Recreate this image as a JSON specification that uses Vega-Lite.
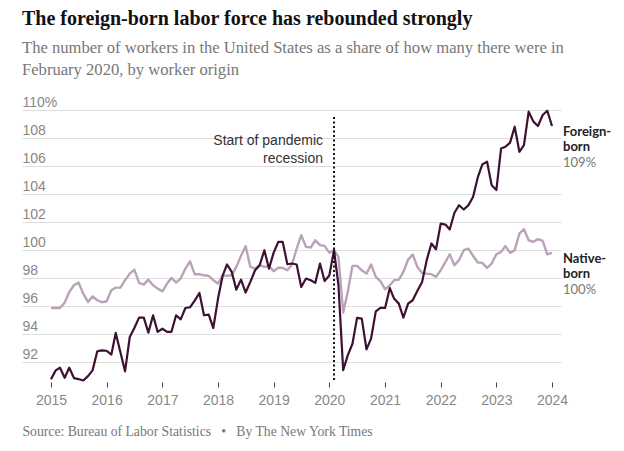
{
  "$schema": "https://vega.github.io/schema/vega-lite/v6.json",
  "width": 539,
  "height": 272,
  "autosize": {"type": "none"},
  "padding": {"left": 22, "top": 110, "right": 63, "bottom": 69},
  "background": "white",
  "title": {
    "text": "The foreign-born labor force has rebounded strongly",
    "subtitle": ["The number of workers in the United States as a share of how many there were in", "February 2020, by worker origin"],
    "anchor": "start",
    "frame": "group",
    "font": "Liberation Serif",
    "fontSize": 20,
    "fontWeight": "bold",
    "color": "#121212",
    "subtitleFont": "Liberation Serif",
    "subtitleFontSize": 16.6,
    "subtitleColor": "#777777",
    "subtitlePadding": 11,
    "subtitleLineHeight": 22,
    "offset": 16
  },
  "datasets": {
    "series": [
      {"date": "2015-01-01", "foreign": 90.79, "native": 95.88},
      {"date": "2015-02-01", "foreign": 91.43, "native": 95.88},
      {"date": "2015-03-01", "foreign": 91.62, "native": 95.88},
      {"date": "2015-04-01", "foreign": 90.9, "native": 96.26},
      {"date": "2015-05-01", "foreign": 91.62, "native": 97.02},
      {"date": "2015-06-01", "foreign": 90.88, "native": 97.5},
      {"date": "2015-07-01", "foreign": 90.81, "native": 97.69},
      {"date": "2015-08-01", "foreign": 90.71, "native": 96.9},
      {"date": "2015-09-01", "foreign": 91.02, "native": 96.31},
      {"date": "2015-10-01", "foreign": 91.43, "native": 96.71},
      {"date": "2015-11-01", "foreign": 92.79, "native": 96.43},
      {"date": "2015-12-01", "foreign": 92.86, "native": 96.29},
      {"date": "2016-01-01", "foreign": 92.83, "native": 96.36},
      {"date": "2016-02-01", "foreign": 92.55, "native": 97.14},
      {"date": "2016-03-01", "foreign": 94.1, "native": 97.33},
      {"date": "2016-04-01", "foreign": 92.7, "native": 97.33},
      {"date": "2016-05-01", "foreign": 91.36, "native": 97.86},
      {"date": "2016-06-01", "foreign": 93.81, "native": 98.33},
      {"date": "2016-07-01", "foreign": 94.45, "native": 98.62},
      {"date": "2016-08-01", "foreign": 95.19, "native": 97.67},
      {"date": "2016-09-01", "foreign": 95.19, "native": 97.55},
      {"date": "2016-10-01", "foreign": 94.12, "native": 97.9},
      {"date": "2016-11-01", "foreign": 95.36, "native": 97.5},
      {"date": "2016-12-01", "foreign": 94.17, "native": 97.26},
      {"date": "2017-01-01", "foreign": 94.4, "native": 97.07},
      {"date": "2017-02-01", "foreign": 94.17, "native": 97.62},
      {"date": "2017-03-01", "foreign": 94.17, "native": 98.02},
      {"date": "2017-04-01", "foreign": 95.36, "native": 97.69},
      {"date": "2017-05-01", "foreign": 95.07, "native": 97.98},
      {"date": "2017-06-01", "foreign": 95.88, "native": 98.69},
      {"date": "2017-07-01", "foreign": 95.93, "native": 99.21},
      {"date": "2017-08-01", "foreign": 96.4, "native": 98.29},
      {"date": "2017-09-01", "foreign": 96.95, "native": 98.29},
      {"date": "2017-10-01", "foreign": 95.36, "native": 98.21},
      {"date": "2017-11-01", "foreign": 95.4, "native": 98.17},
      {"date": "2017-12-01", "foreign": 94.45, "native": 97.86},
      {"date": "2018-01-01", "foreign": 96.55, "native": 97.62},
      {"date": "2018-02-01", "foreign": 98.21, "native": 98.21},
      {"date": "2018-03-01", "foreign": 98.98, "native": 98.17},
      {"date": "2018-04-01", "foreign": 98.45, "native": 98.21},
      {"date": "2018-05-01", "foreign": 97.19, "native": 98.81},
      {"date": "2018-06-01", "foreign": 97.9, "native": 99.6},
      {"date": "2018-07-01", "foreign": 96.98, "native": 100.29},
      {"date": "2018-08-01", "foreign": 97.74, "native": 98.81},
      {"date": "2018-09-01", "foreign": 98.57, "native": 98.69},
      {"date": "2018-10-01", "foreign": 98.93, "native": 98.93},
      {"date": "2018-11-01", "foreign": 100.0, "native": 98.81},
      {"date": "2018-12-01", "foreign": 98.69, "native": 98.88},
      {"date": "2019-01-01", "foreign": 99.83, "native": 98.5},
      {"date": "2019-02-01", "foreign": 100.6, "native": 98.76},
      {"date": "2019-03-01", "foreign": 100.6, "native": 98.74},
      {"date": "2019-04-01", "foreign": 99.0, "native": 98.57},
      {"date": "2019-05-01", "foreign": 99.05, "native": 98.98},
      {"date": "2019-06-01", "foreign": 98.98, "native": 100.12},
      {"date": "2019-07-01", "foreign": 97.38, "native": 101.07},
      {"date": "2019-08-01", "foreign": 97.98, "native": 100.24},
      {"date": "2019-09-01", "foreign": 97.86, "native": 100.19},
      {"date": "2019-10-01", "foreign": 97.67, "native": 100.71},
      {"date": "2019-11-01", "foreign": 99.05, "native": 100.36},
      {"date": "2019-12-01", "foreign": 97.8, "native": 100.31},
      {"date": "2020-01-01", "foreign": 98.2, "native": 99.83},
      {"date": "2020-02-01", "foreign": 100.0, "native": 100.0},
      {"date": "2020-03-01", "foreign": 97.5, "native": 99.52},
      {"date": "2020-04-01", "foreign": 91.45, "native": 95.55},
      {"date": "2020-05-01", "foreign": 92.5, "native": 97.02},
      {"date": "2020-06-01", "foreign": 93.33, "native": 98.88},
      {"date": "2020-07-01", "foreign": 95.17, "native": 98.88},
      {"date": "2020-08-01", "foreign": 95.12, "native": 98.57},
      {"date": "2020-09-01", "foreign": 92.93, "native": 98.33},
      {"date": "2020-10-01", "foreign": 93.69, "native": 98.98},
      {"date": "2020-11-01", "foreign": 95.64, "native": 98.1},
      {"date": "2020-12-01", "foreign": 95.88, "native": 97.79},
      {"date": "2021-01-01", "foreign": 95.88, "native": 97.21},
      {"date": "2021-02-01", "foreign": 97.3, "native": 97.5},
      {"date": "2021-03-01", "foreign": 96.55, "native": 97.86},
      {"date": "2021-04-01", "foreign": 96.19, "native": 97.9},
      {"date": "2021-05-01", "foreign": 95.19, "native": 98.45},
      {"date": "2021-06-01", "foreign": 96.19, "native": 99.33},
      {"date": "2021-07-01", "foreign": 96.43, "native": 99.69},
      {"date": "2021-08-01", "foreign": 97.1, "native": 98.81},
      {"date": "2021-09-01", "foreign": 97.74, "native": 98.38},
      {"date": "2021-10-01", "foreign": 99.29, "native": 98.33},
      {"date": "2021-11-01", "foreign": 100.48, "native": 98.29},
      {"date": "2021-12-01", "foreign": 100.07, "native": 98.1},
      {"date": "2022-01-01", "foreign": 101.9, "native": 98.57},
      {"date": "2022-02-01", "foreign": 101.83, "native": 99.17},
      {"date": "2022-03-01", "foreign": 101.48, "native": 99.71},
      {"date": "2022-04-01", "foreign": 102.67, "native": 98.93},
      {"date": "2022-05-01", "foreign": 103.21, "native": 99.29},
      {"date": "2022-06-01", "foreign": 102.9, "native": 100.0},
      {"date": "2022-07-01", "foreign": 103.2, "native": 100.12},
      {"date": "2022-08-01", "foreign": 103.8, "native": 99.6},
      {"date": "2022-09-01", "foreign": 105.19, "native": 99.12},
      {"date": "2022-10-01", "foreign": 106.12, "native": 99.1},
      {"date": "2022-11-01", "foreign": 106.31, "native": 98.74},
      {"date": "2022-12-01", "foreign": 104.64, "native": 99.05},
      {"date": "2023-01-01", "foreign": 104.29, "native": 99.71},
      {"date": "2023-02-01", "foreign": 107.26, "native": 99.88},
      {"date": "2023-03-01", "foreign": 107.38, "native": 100.29},
      {"date": "2023-04-01", "foreign": 107.67, "native": 99.81},
      {"date": "2023-05-01", "foreign": 108.81, "native": 100.0},
      {"date": "2023-06-01", "foreign": 107.02, "native": 101.19},
      {"date": "2023-07-01", "foreign": 107.5, "native": 101.5},
      {"date": "2023-08-01", "foreign": 109.88, "native": 100.71},
      {"date": "2023-09-01", "foreign": 109.17, "native": 100.6},
      {"date": "2023-10-01", "foreign": 108.86, "native": 100.79},
      {"date": "2023-11-01", "foreign": 109.64, "native": 100.67},
      {"date": "2023-12-01", "foreign": 109.95, "native": 99.71},
      {"date": "2024-01-01", "foreign": 108.86, "native": 99.81}
    ],
    "labels": [
      {"date": "2024-01-01", "value": 108.86, "name": "Foreign-\nborn", "pct": "109%"},
      {"date": "2024-01-01", "value": 99.81, "name": "Native-\nborn", "pct": "100%"}
    ],
    "events": [
      {"date": "2020-02-01", "note": "Start of pandemic\nrecession"}
    ]
  },
  "encoding": {
    "x": {
      "field": "date",
      "type": "temporal",
      "scale": {
        "type": "utc",
        "domain": [
          {"year": 2014, "month": 6, "date": 25, "utc": true},
          {"year": 2024, "month": 2, "date": 29, "utc": true}
        ]
      },
      "axis": {
        "title": "Source: Bureau of Labor Statistics\u00a0\u00a0\u00a0•\u00a0\u00a0\u00a0By The New York Times",
        "titleFont": "Liberation Serif",
        "titleFontSize": 13.7,
        "titleFontWeight": "normal",
        "titleColor": "#777777",
        "titleAlign": "left",
        "titleAnchor": "start",
        "titleBaseline": "alphabetic",
        "titleX": 0,
        "titleY": 53,
        "format": "%Y",
        "tickCount": {"interval": "year", "step": 1},
        "domain": false,
        "grid": false,
        "ticks": true,
        "tickSize": 5,
        "tickColor": "#444444",
        "tickWidth": 1,
        "labelFont": "Liberation Sans",
        "labelFontSize": 14,
        "labelColor": "#888888",
        "labelPadding": 6
      }
    }
  },
  "layer": [
    {
      "data": {"name": "series"},
      "mark": {"type": "line", "color": "#b9a3b9", "strokeWidth": 2.4, "strokeJoin": "round"},
      "encoding": {
        "y": {
          "field": "native",
          "type": "quantitative",
          "scale": {"domain": [90.6, 110], "nice": false, "zero": false},
          "axis": {
            "title": null,
            "values": [92, 94, 96, 98, 100, 102, 104, 106, 108, 110],
            "tickCount": 10,
            "labelOverlap": false,
            "labelExpr": "datum.value == 110 ? '110%' : datum.label",
            "domain": false,
            "ticks": false,
            "tickSize": 0,
            "grid": true,
            "gridColor": "#dddddd",
            "gridWidth": 1,
            "labelAlign": "left",
            "labelBaseline": "alphabetic",
            "labelPadding": 0,
            "labelOffset": -4,
            "labelFont": "Liberation Sans",
            "labelFontSize": 14,
            "labelColor": "#888888"
          }
        }
      }
    },
    {
      "data": {"name": "series"},
      "mark": {"type": "line", "color": "#3c1133", "strokeWidth": 2.2, "strokeJoin": "round"},
      "encoding": {
        "y": {"field": "foreign", "type": "quantitative"}
      }
    },
    {
      "data": {"name": "events"},
      "mark": {"type": "rule", "color": "#111111", "strokeWidth": 2, "strokeDash": [2, 2.5]},
      "encoding": {
        "y": {"datum": 109.5, "type": "quantitative"},
        "y2": {"datum": 90.6}
      }
    },
    {
      "data": {"name": "events"},
      "mark": {"type": "text", "align": "right", "baseline": "middle", "dx": -11, "lineBreak": "\n", "lineHeight": 18, "font": "Liberation Sans", "fontSize": 14, "color": "#333333"},
      "encoding": {
        "y": {"datum": 107.8, "type": "quantitative"},
        "text": {"field": "note"}
      }
    },
    {
      "data": {"name": "labels"},
      "mark": {"type": "text", "align": "left", "baseline": "top", "dx": 11, "lineBreak": "\n", "lineHeight": 15.5, "font": "Lato", "fontSize": 13, "fontWeight": "bold", "color": "#222222"},
      "encoding": {
        "y": {"field": "value", "type": "quantitative"},
        "text": {"field": "name"}
      }
    },
    {
      "data": {"name": "labels"},
      "mark": {"type": "text", "align": "left", "baseline": "top", "dx": 11, "dy": 31, "font": "Lato", "fontSize": 13, "color": "#777777"},
      "encoding": {
        "y": {"field": "value", "type": "quantitative"},
        "text": {"field": "pct"}
      }
    }
  ],
  "config": {
    "view": {"stroke": null}
  }
}
